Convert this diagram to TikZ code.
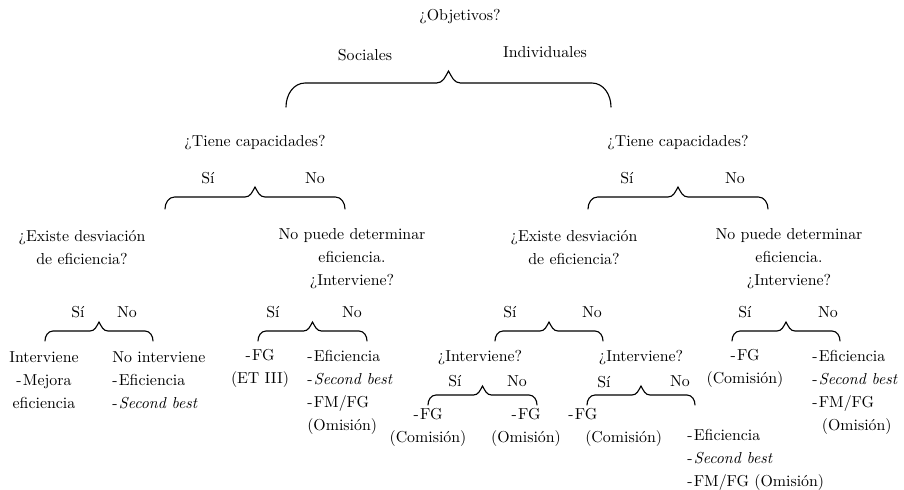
\documentclass[tikz,border=0pt]{standalone}
\usepackage{fontspec}
\usetikzlibrary{calc}

\tikzset{
  txt/.style={inner sep=0pt, font=\fontsize{10}{14.5}\selectfont, align=center},
  lista/.style={txt, align=left, anchor=west},
  llave/.style={line width=0.7pt, line cap=round},
}
\newcommand{\guion}{-\kern0.8pt}
% #1 left x, #2 right x, #3 y of the ends, #4 corner, #5 tip
\newcommand{\llave}[5]{%
  \draw[llave] (#1,#3) to[out=90,in=180] ++(0.8*#4,#4)
    -- ($({(#1+#2)/2-#5},{#3+#4})$) to[out=0,in=240] ++(#5,#5)
    to[out=300,in=180] ++(#5,-#5)
    -- ($({#2-0.8*#4},{#3+#4})$) to[out=0,in=90] (#2,#3);}

\begin{document}
\begin{tikzpicture}[x=0.63pt,y=0.63pt]
\useasboundingbox (0,0) rectangle (904,-490);

% top level
\node[txt] (obj) at (460,-17) {¿Objetivos?};
\node[txt] (soc) at (365,-55) {Sociales};
\node[txt] (ind) at (545,-52) {Individuales};
\llave{286}{611}{-107}{24}{12}

% capacidades
\node[txt] (capL) at (255,-143) {¿Tiene capacidades?};
\node[txt] (capR) at (678,-143) {¿Tiene capacidades?};
\node[txt] (siL) at (208,-178) {Sí};
\node[txt] (noL) at (315,-178) {No};
\node[txt] (siR) at (627,-178) {Sí};
\node[txt] (noR) at (735,-178) {No};
\llave{165}{345}{-209}{12}{10}
\llave{588}{768}{-209}{12}{10}

% third level
\node[txt] (desvL) at (82,-247.5) {¿Existe desviación\\de eficiencia?};
\node[txt] (detL) at (352,-259) {No puede determinar\\eficiencia.\\¿Interviene?};
\node[txt] (desvR) at (574,-247.5) {¿Existe desviación\\de eficiencia?};
\node[txt] (detR) at (789,-259) {No puede determinar\\eficiencia.\\¿Interviene?};

\node[txt] (siLL) at (78,-312) {Sí};
\node[txt] (noLL) at (127,-312) {No};
\node[txt] (siLR) at (273,-312) {Sí};
\node[txt] (noLR) at (352,-312) {No};
\node[txt] (siRL) at (510,-312) {Sí};
\node[txt] (noRL) at (592,-312) {No};
\node[txt] (siRR) at (745,-312) {Sí};
\node[txt] (noRR) at (828,-312) {No};
\llave{45}{153}{-341}{10}{9}
\llave{258}{367}{-341}{10}{9}
\llave{495}{603}{-341}{10}{9}
\llave{732}{840}{-341}{10}{9}

% leaves, left side
\node[txt] (intLL) at (44,-380) {Interviene\\\guion Mejora\\eficiencia};
\node[lista] (nointLL) at (112,-380) {No interviene\\\guion Eficiencia\\\guion\textit{Second best}};
\node[txt] (fgLR) at (260,-368.5) {\guion FG\\(ET III)};
\node[lista] (efLR) at (307,-392) {\guion Eficiencia\\\guion\textit{Second best}\\\guion FM/FG\\(Omisión)};

% right side, desviacion
\node[txt] (intA) at (480,-358) {¿Interviene?};
\node[txt] (siA) at (455,-381) {Sí};
\node[txt] (noA) at (517,-381) {No};
\node[txt] (intB) at (641,-358) {¿Interviene?};
\node[txt] (siB) at (604,-382) {Sí};
\node[txt] (noB) at (680,-381) {No};
\llave{428}{537}{-405}{10}{9}
\llave{587}{695}{-405}{10}{9}

\node[txt] (fgA1) at (428,-427) {\guion FG\\(Comisión)};
\node[txt] (fgA2) at (526,-427) {\guion FG\\(Omisión)};
\node[lista] (fgB1) at (568,-427) {\guion FG\\\hspace*{10.7pt}(Comisión)};
\node[lista] (efB2) at (687,-460) {\guion Eficiencia\\\guion\textit{Second best}\\\guion FM/FG (Omisión)};

% right side, no puede determinar
\node[txt] (fgRR) at (745,-368.5) {\guion FG\\(Comisión)};
\node[lista] (efRR) at (812,-392) {\guion Eficiencia\\\guion\textit{Second best}\\\guion FM/FG\\\hspace*{6pt}(Omisión)};
\end{tikzpicture}
\end{document}
